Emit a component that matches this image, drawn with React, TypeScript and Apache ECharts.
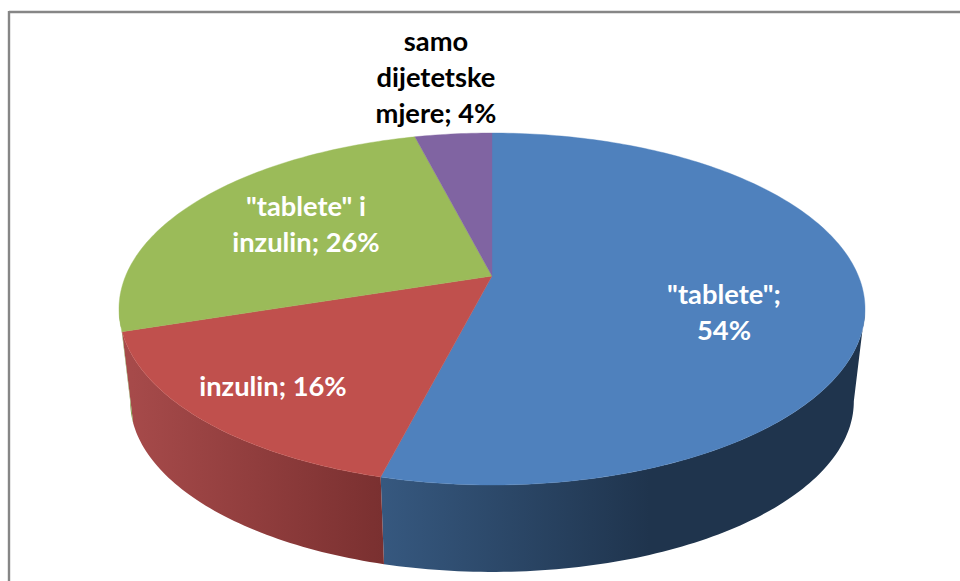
import React, { useEffect, useRef } from "react";
import * as echarts from "echarts";

const categories = ['"tablete"', "inzulin", '"tablete" i inzulin', "samo dijetetske mjere"];
const shares = [54, 16, 26, 4];
const labelLines = [
  ['"tablete";', "54%"],
  ["inzulin; 16%"],
  ['"tablete" i', "inzulin; 26%"],
  ["samo", "dijetetske", "mjere; 4%"],
];
const topColors = ["#4f81bd", "#c0504d", "#9bbb59", "#8064a2"];
const sideStops = [
  ["#36587f", "#1f344d"],
  ["#a64a4a", "#7a3030"],
  ["#7d9a45", "#7d9a45"],
  ["#5f4a7a", "#5f4a7a"],
];
const labelColors = ["#ffffff", "#ffffff", "#ffffff", "#000000"];

// Perspective disc geometry
const CX = 492;
const CY = 276;
const AX = 366.4;
const BY = 169.8;
const K = 0.1875;
const DEPTH_SCALE = 0.97;
const DEPTH_SHIFT = 101.5;
const LABEL_CENTERS = [
  [724, 311.5],
  [273, 385],
  [306, 223.5],
  [436, 76],
];
const GRADIENT_SPANS = [
  [383, 650],
  [132, 383],
  [120, 132],
  [400, 500],
];

const DEG = Math.PI / 180;
const project = (deg: number) => {
  const u = Math.sin(deg * DEG);
  const v = Math.cos(deg * DEG);
  const w = 1 + K * v;
  return [CX + (AX * u) / w, CY - (BY * v) / w];
};
const lower = (p: number[]) => [
  CX + DEPTH_SCALE * (p[0] - CX),
  DEPTH_SHIFT + DEPTH_SCALE * p[1],
];
const arc = (a: number, b: number) => {
  const pts: number[][] = [];
  const n = Math.max(2, Math.ceil(Math.abs(b - a)));
  for (let i = 0; i <= n; i++) pts.push(project(a + ((b - a) * i) / n));
  return pts;
};
const total = shares.reduce((s, v) => s + v, 0);
const range = (i: number, value: number) => {
  const before = shares.slice(0, i).reduce((s, v) => s + v, 0);
  return [(before / total) * 360, ((before + value) / total) * 360];
};
const SIDE_START = Math.acos(-K) / DEG;
const SIDE_END = 360 - SIDE_START;

export default function App() {
  const ref = useRef<HTMLDivElement>(null);
  useEffect(() => {
    const chart = echarts.init(ref.current!, undefined, { renderer: "svg" });
    const data = shares.map((v, i) => ({ name: categories[i], value: v }));
    chart.setOption({
      animation: false,
      backgroundColor: "#ffffff",
      graphic: [
        { type: "line", shape: { x1: 9, y1: 12, x2: 960, y2: 12 }, style: { stroke: "#868686", lineWidth: 2.4 } },
        { type: "line", shape: { x1: 9, y1: 11, x2: 9, y2: 581 }, style: { stroke: "#868686", lineWidth: 2.4 } },
      ],
      series: [
        {
          type: "custom",
          coordinateSystem: "none",
          silent: true,
          z: 1,
          data,
          renderItem: (params: any, api: any) => {
            const i = params.dataIndex;
            const [a, b] = range(i, api.value(0));
            const s = Math.max(a, SIDE_START);
            const e = Math.min(b, SIDE_END);
            if (e <= s) return { type: "group", children: [] };
            const top = arc(s, e);
            const bottom = top.map(lower).reverse();
            const [g0, g1] = GRADIENT_SPANS[i];
            const fill = new echarts.graphic.LinearGradient(
              g0, 0, g1, 0,
              [
                { offset: 0, color: sideStops[i][0] },
                { offset: 1, color: sideStops[i][1] },
              ],
              true,
            );
            return {
              type: "polygon",
              shape: { points: top.concat(bottom) },
              style: { fill },
            };
          },
        },
        {
          type: "custom",
          coordinateSystem: "none",
          silent: true,
          z: 2,
          data,
          renderItem: (params: any, api: any) => {
            const i = params.dataIndex;
            const [a, b] = range(i, api.value(0));
            return {
              type: "polygon",
              shape: { points: [[CX, CY], ...arc(a, b)] },
              style: { fill: topColors[i], stroke: topColors[i], lineWidth: 0.4 },
            };
          },
        },
        {
          type: "custom",
          coordinateSystem: "none",
          silent: true,
          z: 3,
          data,
          renderItem: (params: any) => {
            const i = params.dataIndex;
            return {
              type: "text",
              x: LABEL_CENTERS[i][0],
              y: LABEL_CENTERS[i][1],
              style: {
                text: labelLines[i].join("\n"),
                fill: labelColors[i],
                font: "bold 27.3px Lato",
                lineHeight: 36,
                align: "center",
                verticalAlign: "middle",
              },
            };
          },
        },
      ],
    });
    return () => chart.dispose();
  }, []);
  return <div ref={ref} style={{ position: "absolute", left: 0, top: 0, width: 960, height: 581 }} />;
}
